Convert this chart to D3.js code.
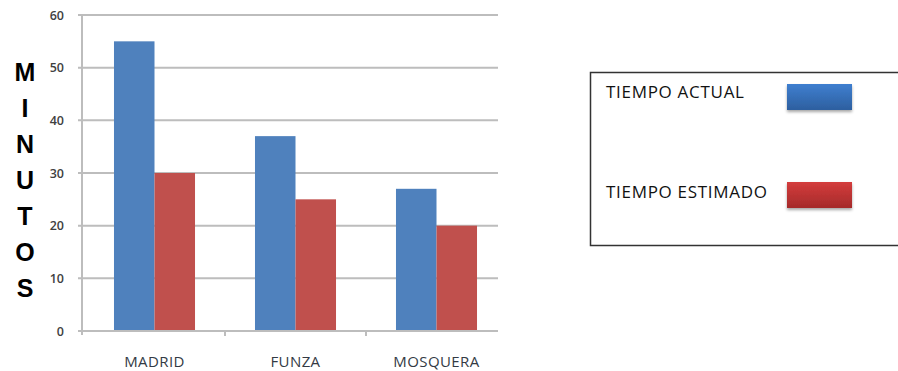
<!DOCTYPE html>
<html>
<head>
<meta charset="utf-8">
<script src="https://cdn.jsdelivr.net/npm/d3@7"></script>
<style>
  body { margin: 0; background: #fff; }
  svg { display: block; }
</style>
</head>
<body>
<svg id="chart" width="898" height="371"></svg>
<script>
// chart data
const categories = ["MADRID", "FUNZA", "MOSQUERA"]
const seriesNames = ["TIEMPO ACTUAL", "TIEMPO ESTIMADO"]
const tiempoActual = [55, 37, 27]
const tiempoEstimado = [30, 25, 20]
const yTicks = [0, 10, 20, 30, 40, 50, 60]
const axisTitle = "MINUTOS"

const barColors = ["#4f81bd", "#c0504d"]
const values = [tiempoActual, tiempoEstimado]

const svg = d3.select("#chart")

// plot area
const plotLeft = 82, plotRight = 498, plotTop = 15, plotBottom = 331

const y = d3.scaleLinear().domain([0, 60]).range([plotBottom, plotTop])

const x0 = d3.scaleBand().domain(categories).range([84, 507])
const x1 = d3.scaleBand().domain(seriesNames)
  .range([0, x0.bandwidth()])
  .paddingInner(0)
  .paddingOuter(0.74)

// gridlines
svg.append("g")
  .selectAll("line")
  .data(yTicks)
  .join("line")
  .attr("x1", plotLeft - 4)
  .attr("x2", plotRight)
  .attr("y1", d => y(d))
  .attr("y2", d => y(d))
  .attr("stroke", "#bdbdbd")
  .attr("stroke-width", 2)

// y axis line
svg.append("line")
  .attr("x1", plotLeft).attr("x2", plotLeft)
  .attr("y1", plotTop).attr("y2", plotBottom + 4)
  .attr("stroke", "#bdbdbd")
  .attr("stroke-width", 2)

// y tick labels
svg.append("g")
  .selectAll("text")
  .data(yTicks)
  .join("text")
  .attr("x", 64)
  .attr("y", d => y(d) + 4.5)
  .attr("text-anchor", "end")
  .attr("font-family", "Open Sans, sans-serif")
  .attr("font-size", 12.5)
  .attr("font-weight", 600)
  .attr("fill", "#404040")
  .text(d => d)

// bars
const groups = svg.append("g")
  .selectAll("g")
  .data(categories)
  .join("g")
  .attr("transform", d => `translate(${x0(d)},0)`)

groups.selectAll("rect")
  .data((d, i) => seriesNames.map((s, j) => ({ s, v: values[j][i], j })))
  .join("rect")
  .attr("x", d => x1(d.s))
  .attr("y", d => y(d.v))
  .attr("width", x1.bandwidth())
  .attr("height", d => plotBottom - y(d.v))
  .attr("fill", d => barColors[d.j])

// x axis line and category ticks
svg.append("line")
  .attr("x1", plotLeft).attr("x2", plotRight)
  .attr("y1", plotBottom).attr("y2", plotBottom)
  .attr("stroke", "#bdbdbd")
  .attr("stroke-width", 2)

svg.append("g")
  .selectAll("line")
  .data(categories.slice(1))
  .join("line")
  .attr("x1", d => x0(d)).attr("x2", d => x0(d))
  .attr("y1", plotBottom).attr("y2", plotBottom + 5)
  .attr("stroke", "#bdbdbd")
  .attr("stroke-width", 2)

svg.append("g")
  .selectAll("text")
  .data(categories)
  .join("text")
  .attr("x", d => x0(d) + x0.bandwidth() / 2)
  .attr("y", 366.5)
  .attr("text-anchor", "middle")
  .attr("font-family", "Open Sans, sans-serif")
  .attr("font-size", 15)
  .attr("letter-spacing", 0.4)
  .attr("fill", "#333a44")
  .text(d => d)

// vertical axis title, one letter per line
svg.append("g")
  .selectAll("text")
  .data(axisTitle.split(""))
  .join("text")
  .attr("x", 25)
  .attr("y", (d, i) => 81 + i * 36)
  .attr("text-anchor", "middle")
  .attr("font-family", "Liberation Sans, sans-serif")
  .attr("font-size", 25)
  .attr("font-weight", "bold")
  .attr("fill", "#000")
  .text(d => d)

// legend
const defs = svg.append("defs")
const grads = [["#3f7fd0", "#2d5f9f"], ["#d43d3d", "#a52a2a"]]
grads.forEach((g, i) => {
  const lg = defs.append("linearGradient")
    .attr("id", "lg" + i)
    .attr("x1", 0).attr("y1", 0).attr("x2", 0).attr("y2", 1)
  lg.append("stop").attr("offset", 0).attr("stop-color", g[0])
  lg.append("stop").attr("offset", 1).attr("stop-color", g[1])
})
const shadow = defs.append("filter").attr("id", "shadow")
  .attr("x", -0.2).attr("y", -0.2).attr("width", 1.4).attr("height", 1.6)
shadow.append("feDropShadow")
  .attr("dx", 0).attr("dy", 2).attr("stdDeviation", 1.5)
  .attr("flood-color", "#000").attr("flood-opacity", 0.35)

svg.append("rect")
  .attr("x", 590.5).attr("y", 72.5)
  .attr("width", 320).attr("height", 173)
  .attr("fill", "none")
  .attr("stroke", "#333")
  .attr("stroke-width", 1.5)

const legendY = d3.scaleOrdinal().domain(seriesNames).range([84, 182])

const items = svg.append("g")
  .selectAll("g")
  .data(seriesNames)
  .join("g")
  .attr("transform", d => `translate(0,${legendY(d)})`)

items.append("rect")
  .attr("x", 787).attr("y", 0)
  .attr("width", 65).attr("height", 26)
  .attr("fill", (d, i) => `url(#lg${i})`)
  .attr("filter", "url(#shadow)")

items.append("text")
  .attr("x", 606)
  .attr("y", (d, i) => i === 0 ? 14 : 16)
  .attr("font-family", "Open Sans, sans-serif")
  .attr("font-size", 17)
  .attr("letter-spacing", 0.7)
  .attr("fill", "#111")
  .text(d => d)
</script>
</body>
</html>
